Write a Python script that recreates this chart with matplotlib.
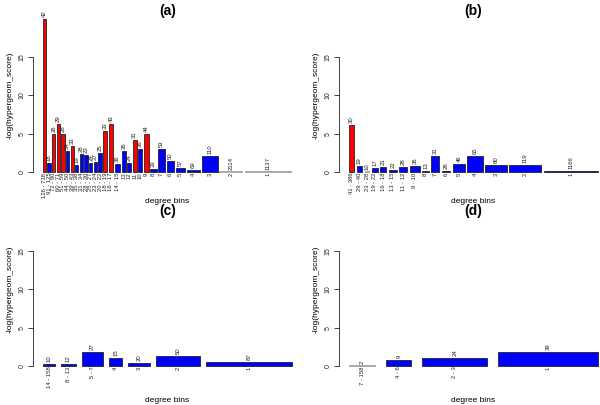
import matplotlib
matplotlib.use("Agg")
import matplotlib.pyplot as plt
import numpy as np

plt.rcParams["font.family"] = ["Liberation Sans", "DejaVu Sans"]

# panel (a)
a_bins = ["126 - 738", "91 - 125", "72 - 90", "60 - 71", "51 - 59", "44 - 50",
          "39 - 43", "35 - 38", "31 - 34", "28 - 30", "25 - 27", "23 - 24",
          "20 - 22", "18 - 19", "16 - 17", "14 - 15", "13", "12", "11", "10",
          "9", "8", "7", "6", "5", "4", "3", "2", "1"]
a_counts = [42, 18, 26, 29, 28, 34, 33, 19, 28, 23, 24, 27, 25, 33, 43, 36,
            26, 24, 31, 36, 44, 33, 53, 50, 57, 69, 110, 2114, 1137]
a_scores = [19.9, 1.2, 5.0, 6.2, 5.0, 2.74, 3.35, 0.96, 2.4, 2.17, 1.17, 1.3,
            2.5, 5.4, 6.3, 1.09, 2.7, 1.2, 4.2, 3.04, 4.96, 0.4, 3.04, 1.43,
            0.52, 0.2, 2.1, 0.0, 0.0]
a_widths = [3.2, 3.3, 3.3, 3.3, 3.3, 3.3, 3.3, 3.3, 3.3, 3.4, 3.4, 3.3, 3.6,
            4.0, 4.6, 6.0, 4.0, 4.3, 4.0, 4.7, 5.0, 6.7, 7.3, 8.0, 10.0, 14.0,
            16.7, 25.0, 49.0]
a_signif = [1, 0, 1, 1, 1, 0, 1, 0, 0, 0, 0, 0, 0, 1, 1, 0, 0, 0, 1, 0, 1, 0,
            0, 0, 0, 0, 0, 0, 0]

# panel (b)
b_bins = ["41 - 386", "29 - 40", "23 - 28", "19 - 22", "16 - 18", "13 - 15",
          "11 - 12", "9 - 10", "8", "7", "6", "5", "4", "3", "2", "1"]
b_counts = [30, 19, 10, 17, 21, 22, 28, 36, 13, 31, 28, 46, 65, 80, 119, 1166]
b_scores = [6.07, 0.73, 0.0, 0.5, 0.6, 0.26, 0.64, 0.8, 0.13, 2.05, 0.08, 1.0,
            2.1, 0.85, 0.9, 0.15]
b_widths = [5.3, 5.4, 5.0, 5.4, 6.3, 7.7, 8.3, 10.0, 6.6, 7.7, 8.7, 12.3,
            15.6, 21.7, 32.7, 55.0]
b_signif = [1, 0, 0, 0, 0, 0, 0, 0, 0, 0, 0, 0, 0, 0, 0, 0]

# panel (c)
c_bins = ["14 - 158", "8 - 13", "5 - 7", "4", "3", "2", "1"]
c_counts = [10, 12, 27, 15, 20, 50, 87]
c_scores = [0.2, 0.26, 1.83, 1.04, 0.35, 1.35, 0.48]
c_widths = [12.3, 14.7, 21.4, 13.6, 21.7, 44.7, 87.0]
c_signif = [0, 0, 0, 0, 0, 0, 0]

# panel (d)
d_bins = ["7 - 158", "4 - 6", "2 - 3", "1"]
d_counts = [2, 9, 24, 39]
d_scores = [0.0, 0.78, 1.0, 1.87]
d_widths = [26.6, 25.0, 65.4, 100.0]
d_signif = [0, 0, 0, 0]


def draw_panel(ax, title, bins, counts, scores, widths, signif,
               title_y=1.012, xlabel_y=-0.163):
    widths = np.asarray(widths, dtype=float)
    space = 0.2 * widths.mean()
    right = np.cumsum(space + widths)
    left = right - widths
    colors = ["#ff0000" if s else "#0000ff" for s in signif]
    # empty bins only show their outline, which R renders as a light grey line
    edges = ["#999999" if v == 0 else "#222222" for v in scores]
    lws = [1.2 if v == 0 else 0.6 for v in scores]

    bars = ax.bar(left, scores, width=widths, align="edge", color=colors,
                  edgecolor=edges, linewidth=lws)
    ax.bar_label(bars, labels=[str(c) for c in counts], rotation=90,
                 fontsize=4.3, padding=1.5, color="#222222")
    for x, lab in zip(left + widths / 2, bins):
        ax.annotate(lab, (x, 0), xytext=(0, -0.5), textcoords="offset points",
                    rotation=90, ha="center", va="top", fontsize=4.2,
                    color="#222222")

    span = right[-1] - left[0]
    ax.set_xlim(left[0] - 0.04 * span, right[-1] + 0.04 * span)
    ax.set_ylim(-0.8, 20.8)
    ax.set_xticks([])
    ax.set_yticks([0, 5, 10, 15])
    ax.tick_params(axis="y", labelrotation=90, labelsize=5, length=3.5,
                   width=0.6, pad=2, colors="#222222")
    for lab in ax.get_yticklabels():
        lab.set_va("center")
    for side in ("top", "right", "bottom"):
        ax.spines[side].set_visible(False)
    ax.spines["left"].set_bounds(0, 15)
    ax.spines["left"].set_linewidth(0.6)
    ax.spines["left"].set_color("#222222")
    ax.patch.set_visible(False)

    ax.set_ylabel("-log(hypergeom_score)", fontsize=6, va="center")
    ax.yaxis.set_label_coords(-0.085, 0.5)
    ax.set_xlabel("degree bins", fontsize=6, va="center")
    ax.xaxis.set_label_coords(0.5, xlabel_y)
    ax.text(0.5, title_y, title, transform=ax.transAxes, ha="center",
            va="center", fontsize=10, fontweight="bold")


fig = plt.figure(figsize=(6.0, 4.05), dpi=100)
w, h = 0.4483, 0.4089
ax_a = fig.add_axes([0.055, 0.5602, w, h])
ax_b = fig.add_axes([0.565, 0.5602, w, h])
ax_c = fig.add_axes([0.055, 0.0812, w, h])
ax_d = fig.add_axes([0.565, 0.0812, w, h])

draw_panel(ax_a, "(a)", a_bins, a_counts, a_scores, a_widths, a_signif,
           title_y=1.012, xlabel_y=-0.139)
draw_panel(ax_b, "(b)", b_bins, b_counts, b_scores, b_widths, b_signif,
           title_y=1.012, xlabel_y=-0.139)
draw_panel(ax_c, "(c)", c_bins, c_counts, c_scores, c_widths, c_signif,
           title_y=0.972, xlabel_y=-0.169)
draw_panel(ax_d, "(d)", d_bins, d_counts, d_scores, d_widths, d_signif,
           title_y=0.972, xlabel_y=-0.169)

fig.savefig("out.png", dpi=100)
plt.close(fig)
